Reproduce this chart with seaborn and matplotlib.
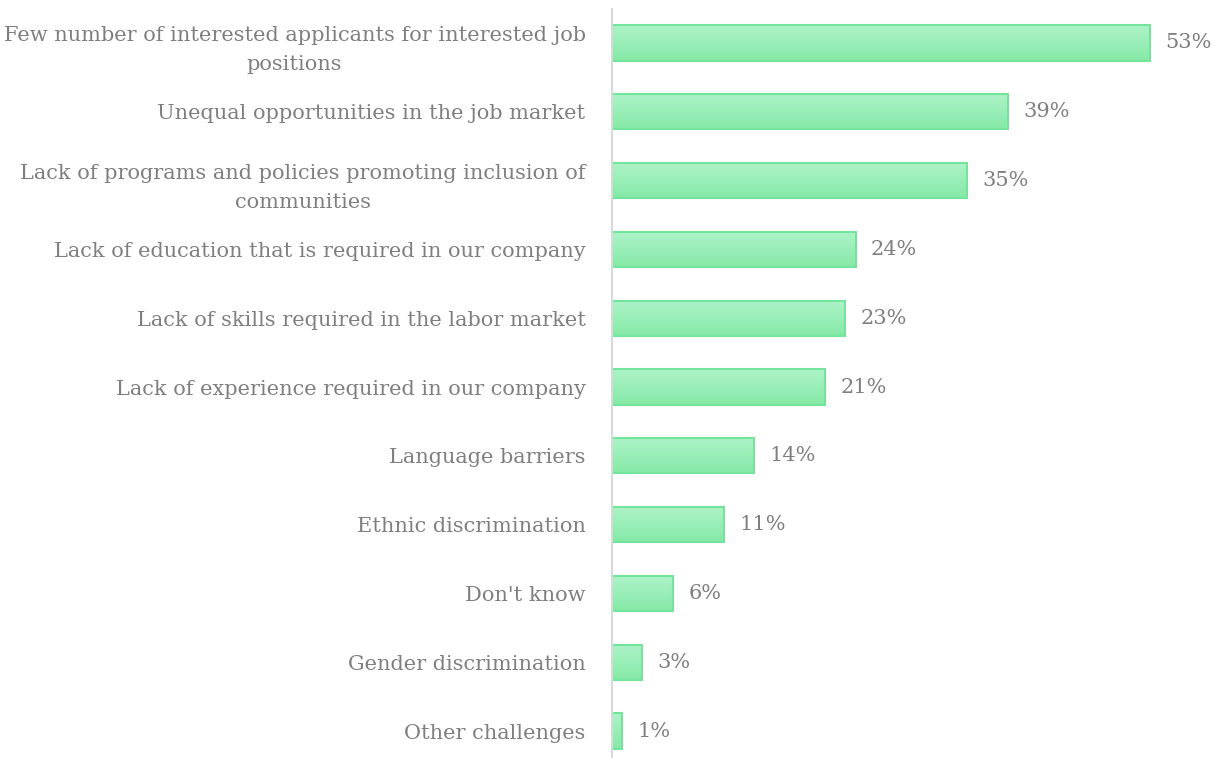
import numpy as np
import pandas as pd
import matplotlib.pyplot as plt
import seaborn as sns
from matplotlib.colors import LinearSegmentedColormap

# Dados
categorias = [
    "Few number of interested applicants for interested job\npositions",
    "Unequal opportunities in the job market",
    "Lack of programs and policies promoting inclusion of\ncommunities",
    "Lack of education that is required in our company",
    "Lack of skills required in the labor market",
    "Lack of experience required in our company",
    "Language barriers",
    "Ethnic discrimination",
    "Don't know",
    "Gender discrimination",
    "Other challenges",
]
valores = [53, 39, 35, 24, 23, 21, 14, 11, 6, 3, 1]

df = pd.DataFrame({"categoria": categorias, "valor": valores})

sns.set_style("white")
plt.rcParams["font.family"] = ["DejaVu Serif"]

fig = plt.figure(figsize=(12.15, 7.58), dpi=100)
ax = fig.add_axes([612 / 1215, 0.0, 1 - 612 / 1215, 1 - 8.6 / 758])

sns.barplot(data=df, y="categoria", x="valor", orient="h", ax=ax,
            color="#95ecb4", edgecolor="#72e49c", linewidth=1.5, width=0.51)

# Gradiente vertical em cada barra
grad = LinearSegmentedColormap.from_list("g", ["#aef3c8", "#85e9a7"])
for p in ax.patches:
    x0, y0 = p.get_x(), p.get_y()
    w, h = p.get_width(), p.get_height()
    im = ax.imshow(np.linspace(0, 1, 50).reshape(-1, 1), cmap=grad, aspect="auto",
                   extent=[x0, x0 + w, y0, y0 + h], origin="lower", zorder=p.get_zorder())
    im.set_clip_path(p)
    p.set_facecolor("none")
    p.set_zorder(p.get_zorder() + 1)

ax.set_xlim(0, 59.4)
ax.set_ylim(10 + 27 / 68.8, -0.5)

ax.bar_label(ax.containers[0], labels=[f"{v}%" for v in valores], padding=11,
             fontsize=15, color="#7f7f7f")

ax.set_xlabel("")
ax.set_ylabel("")
ax.set_xticks([])
ax.tick_params(axis="y", length=0, pad=19, labelsize=15, labelcolor="#7f7f7f")
for lab in ax.get_yticklabels():
    lab.set_multialignment("center")
    lab.set_linespacing(1.7)

for s in ["top", "right", "bottom"]:
    ax.spines[s].set_visible(False)
ax.spines["left"].set_color("#d9d9d9")
ax.spines["left"].set_linewidth(1.5)

plt.savefig("out.png", dpi=100)
